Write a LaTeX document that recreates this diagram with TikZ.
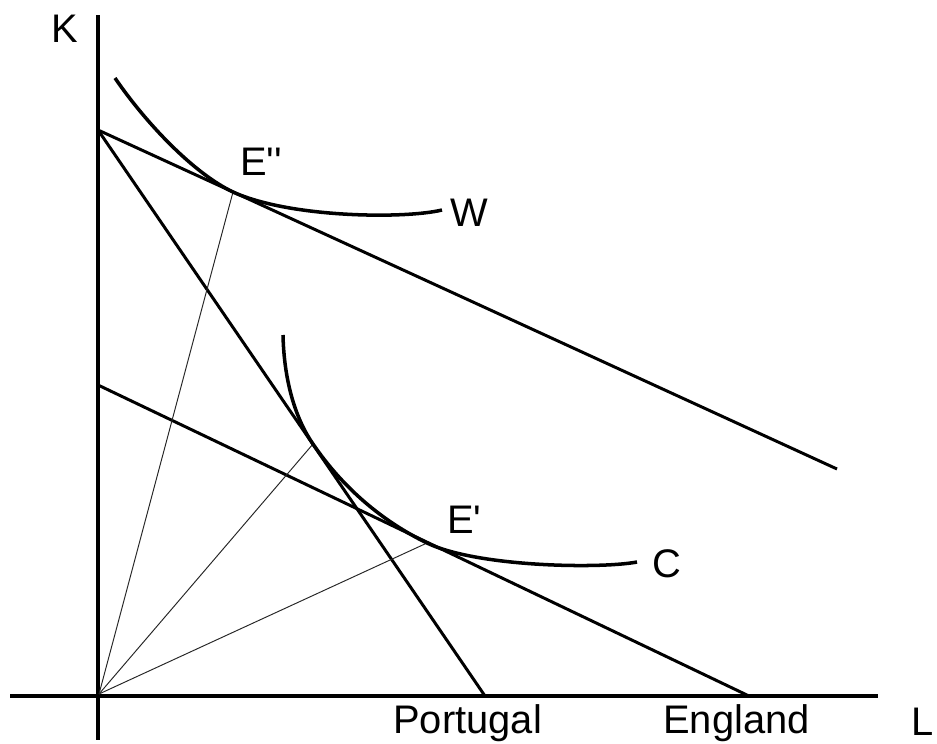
\documentclass[tikz,border=0pt]{standalone}
\usepackage{fontspec}
\setmainfont{Liberation Sans}
\usepackage{tikz}
\usetikzlibrary{positioning}
\tikzstyle{axisline} = [line width=1.9pt, black]
\tikzstyle{budget} = [line width=1.7pt, black]
\tikzstyle{isoquant} = [line width=2pt, black]
\tikzstyle{ray} = [line width=0.55pt, black!85]
\tikzstyle{lbl} = [anchor=base west, inner sep=0pt, font=\fontsize{22.7}{27}\selectfont]
\begin{document}
\begin{tikzpicture}[x=0.02cm, y=-0.02cm]
  \useasboundingbox (0,0) rectangle (937,744);

  % Axes
  \coordinate (O) at (99,694);
  \coordinate (ktop) at (98,15);
  \coordinate (kbot) at (98,740);
  \coordinate (lleft) at (10,696);
  \coordinate (lright) at (878,696);

  % Budget lines
  \coordinate (wK) at (98,130);
  \coordinate (wL) at (837,469);
  \coordinate (pL) at (485,696);
  \coordinate (cK) at (98,385);
  \coordinate (eL) at (749,696);

  % Tangency points and curve ends
  \coordinate (Epp) at (233,192);
  \coordinate (Ec) at (313,444);
  \coordinate (Ep) at (427,543);
  \coordinate (Wbeg) at (115,78);
  \coordinate (Wend) at (442,210);
  \coordinate (Cbeg) at (283,335);
  \coordinate (Cend) at (637,562);

  \draw[axisline] (ktop) -- (kbot);
  \draw[axisline] (lleft) -- (lright);

  \draw[budget] (wK) -- (wL);
  \draw[budget] (wK) -- (pL);
  \draw[budget] (cK) -- (eL);

  % Rays from the origin
  \draw[ray] (O) -- (Epp);
  \draw[ray] (O) -- (Ec);
  \draw[ray] (O) -- (Ep);

  % Isoquants
  \draw[isoquant] (Wbeg) .. controls (145,122) and (193,173) .. (Epp)
    .. controls (290,218) and (405,219) .. (Wend);
  \draw[isoquant] (Cbeg) .. controls (284,380) and (295,418) .. (Ec)
    .. controls (343,488) and (382,521) .. (Ep)
    .. controls (477,567) and (600,569) .. (Cend);

  % Labels
  \node (klbl) [lbl] at (51,42) {K};
  \node (llbl) [lbl] at (911,735) {L};
  \node (epplbl) [lbl] at (240,175) {E\textquotesingle\textquotesingle};
  \node (wlbl) [lbl] at (450,226) {W};
  \node (eplbl) [lbl] at (447,533) {E\textquotesingle};
  \node (clbl) [lbl] at (652,577) {C};
  \node (plbl) [lbl] at (393,733) {Portugal};
  \node (elbl) [lbl] at (663,733) {England};
\end{tikzpicture}
\end{document}
